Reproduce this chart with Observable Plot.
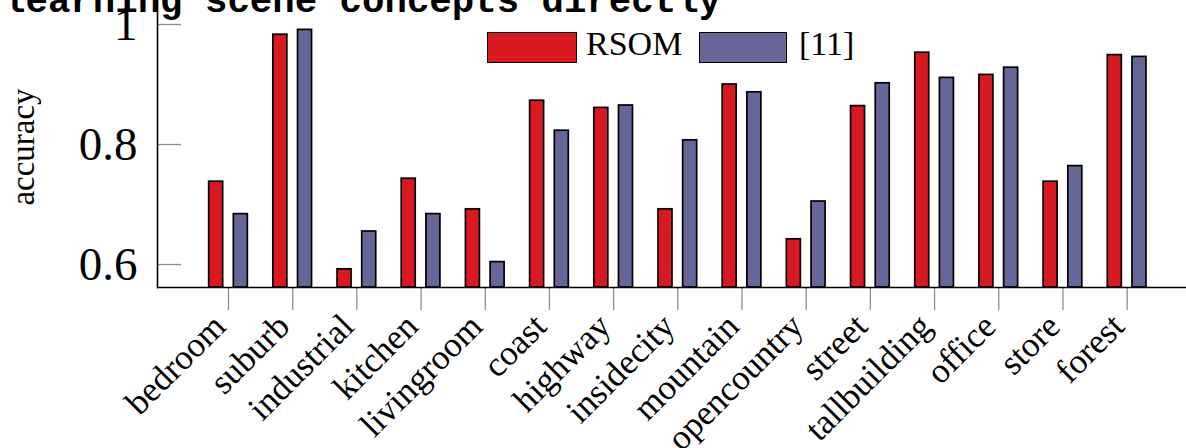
<!DOCTYPE html>
<html>
<head>
<meta charset="utf-8">
<script src="https://cdn.jsdelivr.net/npm/d3@7"></script>
<script src="https://cdn.jsdelivr.net/npm/@observablehq/plot@0.6"></script>
<style>
  html, body { margin: 0; padding: 0; background: #fff; }
  #wrap { position: relative; width: 1186px; height: 448px; overflow: hidden; }
  #title { position: absolute; left: 3px; top: -19px; line-height: 37px; font: bold 37.4px "Liberation Mono", monospace; white-space: nowrap; color: #000; z-index: 2; }
  #chart { position: absolute; left: 0; top: 0; }
  .lg { position: absolute; z-index: 3; }
  .sw { box-sizing: border-box; border: 1.6px solid #000; height: 31px; top: 32px; }
  .lt { font: 34px "Liberation Serif", serif; line-height: 34px; top: 27px; color: #000; }
</style>
</head>
<body>
<div id="wrap">
  <div id="title">learning scene concepts directly</div>
  <div id="chart"></div>
  <div id="legend"></div>
</div>
<script>
const categories = ["bedroom","suburb","industrial","kitchen","livingroom","coast","highway","insidecity","mountain","opencountry","street","tallbuilding","office","store","forest"];
const rsom  = [0.738, 0.983, 0.592, 0.743, 0.692, 0.873, 0.861, 0.692, 0.900, 0.642, 0.864, 0.953, 0.916, 0.738, 0.949];
const ref11 = [0.684, 0.991, 0.655, 0.684, 0.604, 0.823, 0.865, 0.807, 0.887, 0.705, 0.902, 0.911, 0.928, 0.764, 0.946];
const seriesNames = ["RSOM", "[11]"];
const seriesColors = ["#d8191f", "#666699"];
const yDomain = [0.5617, 1.04];
const yTicks = [0.6, 0.8, 1];
const yTickLabels = ["0.6", "0.8", "1"];

const rowsRsom = categories.map((c, i) => ({cat: c, value: rsom[i]}));
const rowsRef = categories.map((c, i) => ({cat: c, value: ref11[i]}));

const chart = Plot.plot({
  width: 1186,
  height: 448,
  marginLeft: 157,
  marginRight: 0,
  marginTop: 0,
  marginBottom: 161,
  style: {fontFamily: "'Liberation Serif', serif", background: "transparent", color: "#000", overflow: "visible"},
  x: {type: "band", domain: categories, paddingInner: 0, paddingOuter: 0.5155, align: 0.588, round: false, axis: null},
  y: {domain: yDomain, axis: null},
  marks: [
    Plot.barY(rowsRsom, {x: "cat", y1: () => yDomain[0], y2: "value", fill: seriesColors[0], stroke: "#000", strokeWidth: 1.7, insetLeft: 12.75, insetRight: 37.44}),
    Plot.barY(rowsRef, {x: "cat", y1: () => yDomain[0], y2: "value", fill: seriesColors[1], stroke: "#000", strokeWidth: 1.7, insetLeft: 37.44, insetRight: 12.75}),
    Plot.axisX({tickSize: 23, tickPadding: 0, stroke: "#8c8c8c", strokeWidth: 1.3, tickFormat: () => "", label: null}),
    Plot.text(categories, {x: d => d, frameAnchor: "bottom", dx: -9, dy: 33, rotate: -45, textAnchor: "end", lineAnchor: "middle", fontSize: 35, fill: "#000"}),
    Plot.axisY({ticks: yTicks, tickSize: 24, dx: 24, stroke: "#8c8c8c", strokeWidth: 1.3, tickFormat: () => "", label: null}),
    Plot.axisY({ticks: yTicks, tickSize: 0, tickPadding: 20, tickFormat: (d) => yTickLabels[yTicks.indexOf(d)], fontSize: 47, fill: "#000", label: null}),
    Plot.text(["accuracy"], {frameAnchor: "left", dx: -134, dy: 3, rotate: -90, textAnchor: "middle", lineAnchor: "middle", fontSize: 33, fill: "#000"}),
    Plot.ruleY([yDomain[0]], {stroke: "#000", strokeWidth: 1.6}),
    Plot.frame({anchor: "left", stroke: "#000", strokeWidth: 1.6})
  ]
});
document.getElementById("chart").appendChild(chart);

// legend
const legend = document.getElementById("legend");
const items = [
  {cls: "lg sw", left: 487, width: 90, bg: seriesColors[0]},
  {cls: "lg lt", left: 586, text: seriesNames[0]},
  {cls: "lg sw", left: 699, width: 88, bg: seriesColors[1]},
  {cls: "lg lt", left: 799, text: seriesNames[1]}
];
for (const it of items) {
  const el = document.createElement("div");
  el.className = it.cls;
  el.style.left = it.left + "px";
  if (it.width) { el.style.width = it.width + "px"; el.style.background = it.bg; }
  if (it.text) el.textContent = it.text;
  legend.appendChild(el);
}
</script>
</body>
</html>
